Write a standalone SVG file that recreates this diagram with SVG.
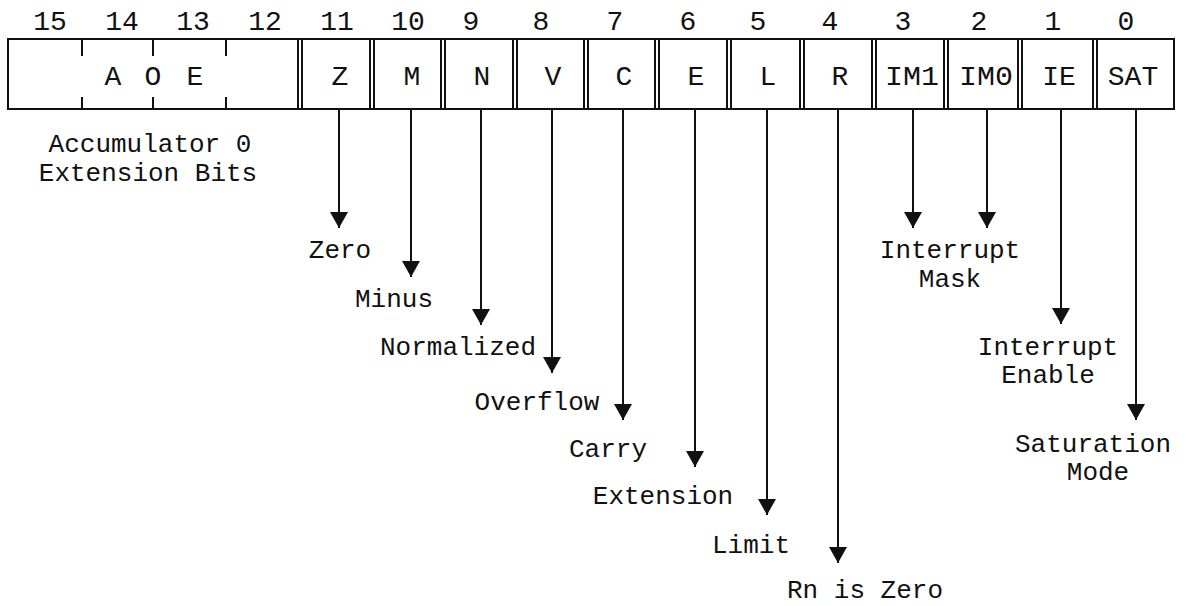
<svg xmlns="http://www.w3.org/2000/svg" width="1187" height="606" viewBox="0 0 1187 606">
<style>
.bg{fill:#fff}
.box{fill:none;stroke:#111;stroke-width:2}
.tick{stroke:#111;stroke-width:2}
.num{font-family:"Liberation Mono","DejaVu Sans Mono",monospace;font-size:28px;fill:#111;text-anchor:middle}
.cell{font-family:"Liberation Mono","DejaVu Sans Mono",monospace;font-size:28px;fill:#111;text-anchor:middle}
.lbl{font-family:"Liberation Mono","DejaVu Sans Mono",monospace;font-size:26px;fill:#111;text-anchor:middle}
.conn line{stroke:#111;stroke-width:2;marker-end:url(#ah)}
</style>
<defs>
<marker id="ah" markerUnits="userSpaceOnUse" viewBox="0 0 16 18" refX="16" refY="9" markerWidth="16" markerHeight="18" orient="auto">
<path d="M0,0 L16,9 L0,18 z" fill="#111"/>
</marker>
</defs>
<rect class="bg" x="0" y="0" width="1187" height="606"/>

<g id="bit-numbers">
<text class="num" x="50" y="30">15</text>
<text class="num" x="122" y="30">14</text>
<text class="num" x="193" y="30">13</text>
<text class="num" x="265" y="30">12</text>
<text class="num" x="337" y="30">11</text>
<text class="num" x="408" y="30">10</text>
<text class="num" x="471" y="30">9</text>
<text class="num" x="541" y="30">8</text>
<text class="num" x="615" y="30">7</text>
<text class="num" x="688" y="30">6</text>
<text class="num" x="758" y="30">5</text>
<text class="num" x="830" y="30">4</text>
<text class="num" x="903" y="30">3</text>
<text class="num" x="979" y="30">2</text>
<text class="num" x="1053" y="30">1</text>
<text class="num" x="1126" y="30">0</text>
</g>

<g id="register">
<rect class="box" x="8" y="39" width="1166" height="70"/>
<g id="dividers">
<line class="tick" x1="298" y1="39" x2="298" y2="109"/><line class="tick" x1="302" y1="39" x2="302" y2="109"/>
<line class="tick" x1="370" y1="39" x2="370" y2="109"/><line class="tick" x1="374" y1="39" x2="374" y2="109"/>
<line class="tick" x1="441" y1="39" x2="441" y2="109"/><line class="tick" x1="445" y1="39" x2="445" y2="109"/>
<line class="tick" x1="513" y1="39" x2="513" y2="109"/><line class="tick" x1="517" y1="39" x2="517" y2="109"/>
<line class="tick" x1="584" y1="39" x2="584" y2="109"/><line class="tick" x1="588" y1="39" x2="588" y2="109"/>
<line class="tick" x1="655" y1="39" x2="655" y2="109"/><line class="tick" x1="659" y1="39" x2="659" y2="109"/>
<line class="tick" x1="727" y1="39" x2="727" y2="109"/><line class="tick" x1="731" y1="39" x2="731" y2="109"/>
<line class="tick" x1="800" y1="39" x2="800" y2="109"/><line class="tick" x1="804" y1="39" x2="804" y2="109"/>
<line class="tick" x1="872" y1="39" x2="872" y2="109"/><line class="tick" x1="876" y1="39" x2="876" y2="109"/>
<line class="tick" x1="944" y1="39" x2="944" y2="109"/><line class="tick" x1="948" y1="39" x2="948" y2="109"/>
<line class="tick" x1="1018" y1="39" x2="1018" y2="109"/><line class="tick" x1="1022" y1="39" x2="1022" y2="109"/>
<line class="tick" x1="1093" y1="39" x2="1093" y2="109"/><line class="tick" x1="1097" y1="39" x2="1097" y2="109"/>
</g>
<g id="aoe-ticks">
<line class="tick" x1="82" y1="39" x2="82" y2="56"/><line class="tick" x1="82" y1="97" x2="82" y2="109"/>
<line class="tick" x1="153" y1="39" x2="153" y2="56"/><line class="tick" x1="153" y1="97" x2="153" y2="109"/>
<line class="tick" x1="226" y1="39" x2="226" y2="56"/><line class="tick" x1="226" y1="97" x2="226" y2="109"/>
</g>
</g>

<g id="field-aoe"><text class="cell" x="113 133 153 174 195" y="85">A O E</text></g>
<g id="field-z"><text class="cell" x="340" y="85">Z</text></g>
<g id="field-m"><text class="cell" x="412" y="85">M</text></g>
<g id="field-n"><text class="cell" x="482" y="85">N</text></g>
<g id="field-v"><text class="cell" x="553" y="85">V</text></g>
<g id="field-c"><text class="cell" x="624" y="85">C</text></g>
<g id="field-e"><text class="cell" x="696" y="85">E</text></g>
<g id="field-l"><text class="cell" x="768" y="85">L</text></g>
<g id="field-r"><text class="cell" x="840" y="85">R</text></g>
<g id="field-im1"><text class="cell" x="912" y="85" textLength="54" lengthAdjust="spacingAndGlyphs">IM1</text></g>
<g id="field-im0"><text class="cell" x="986" y="85" textLength="54" lengthAdjust="spacingAndGlyphs">IM0</text></g>
<g id="field-ie"><text class="cell" x="1059" y="85">IE</text></g>
<g id="field-sat"><text class="cell" x="1133" y="85">SAT</text></g>

<g id="connectors" class="conn">
<line x1="339" y1="109" x2="339" y2="228"/>
<line x1="411" y1="109" x2="411" y2="277"/>
<line x1="481" y1="109" x2="481" y2="325"/>
<line x1="552" y1="109" x2="552" y2="373"/>
<line x1="623" y1="109" x2="623" y2="420"/>
<line x1="695" y1="109" x2="695" y2="467"/>
<line x1="767" y1="109" x2="767" y2="515"/>
<line x1="838" y1="109" x2="838" y2="563"/>
<line x1="913" y1="109" x2="913" y2="228"/>
<line x1="987" y1="109" x2="987" y2="228"/>
<line x1="1061" y1="109" x2="1061" y2="324"/>
<line x1="1136" y1="109" x2="1136" y2="420"/>
</g>

<g id="label-aoe"><text class="lbl" x="150" y="152">Accumulator 0</text><text class="lbl" x="148" y="181">Extension Bits</text></g>
<g id="label-zero"><text class="lbl" x="340" y="258">Zero</text></g>
<g id="label-minus"><text class="lbl" x="394" y="307">Minus</text></g>
<g id="label-normalized"><text class="lbl" x="458" y="355">Normalized</text></g>
<g id="label-overflow"><text class="lbl" x="537" y="410">Overflow</text></g>
<g id="label-carry"><text class="lbl" x="608" y="457">Carry</text></g>
<g id="label-extension"><text class="lbl" x="663" y="504">Extension</text></g>
<g id="label-limit"><text class="lbl" x="751" y="553">Limit</text></g>
<g id="label-rn"><text class="lbl" x="865" y="598">Rn is Zero</text></g>
<g id="label-im"><text class="lbl" x="950" y="258">Interrupt</text><text class="lbl" x="950" y="287">Mask</text></g>
<g id="label-ie"><text class="lbl" x="1048" y="355">Interrupt</text><text class="lbl" x="1048" y="383">Enable</text></g>
<g id="label-sat"><text class="lbl" x="1093" y="452">Saturation</text><text class="lbl" x="1098" y="480">Mode</text></g>
</svg>
